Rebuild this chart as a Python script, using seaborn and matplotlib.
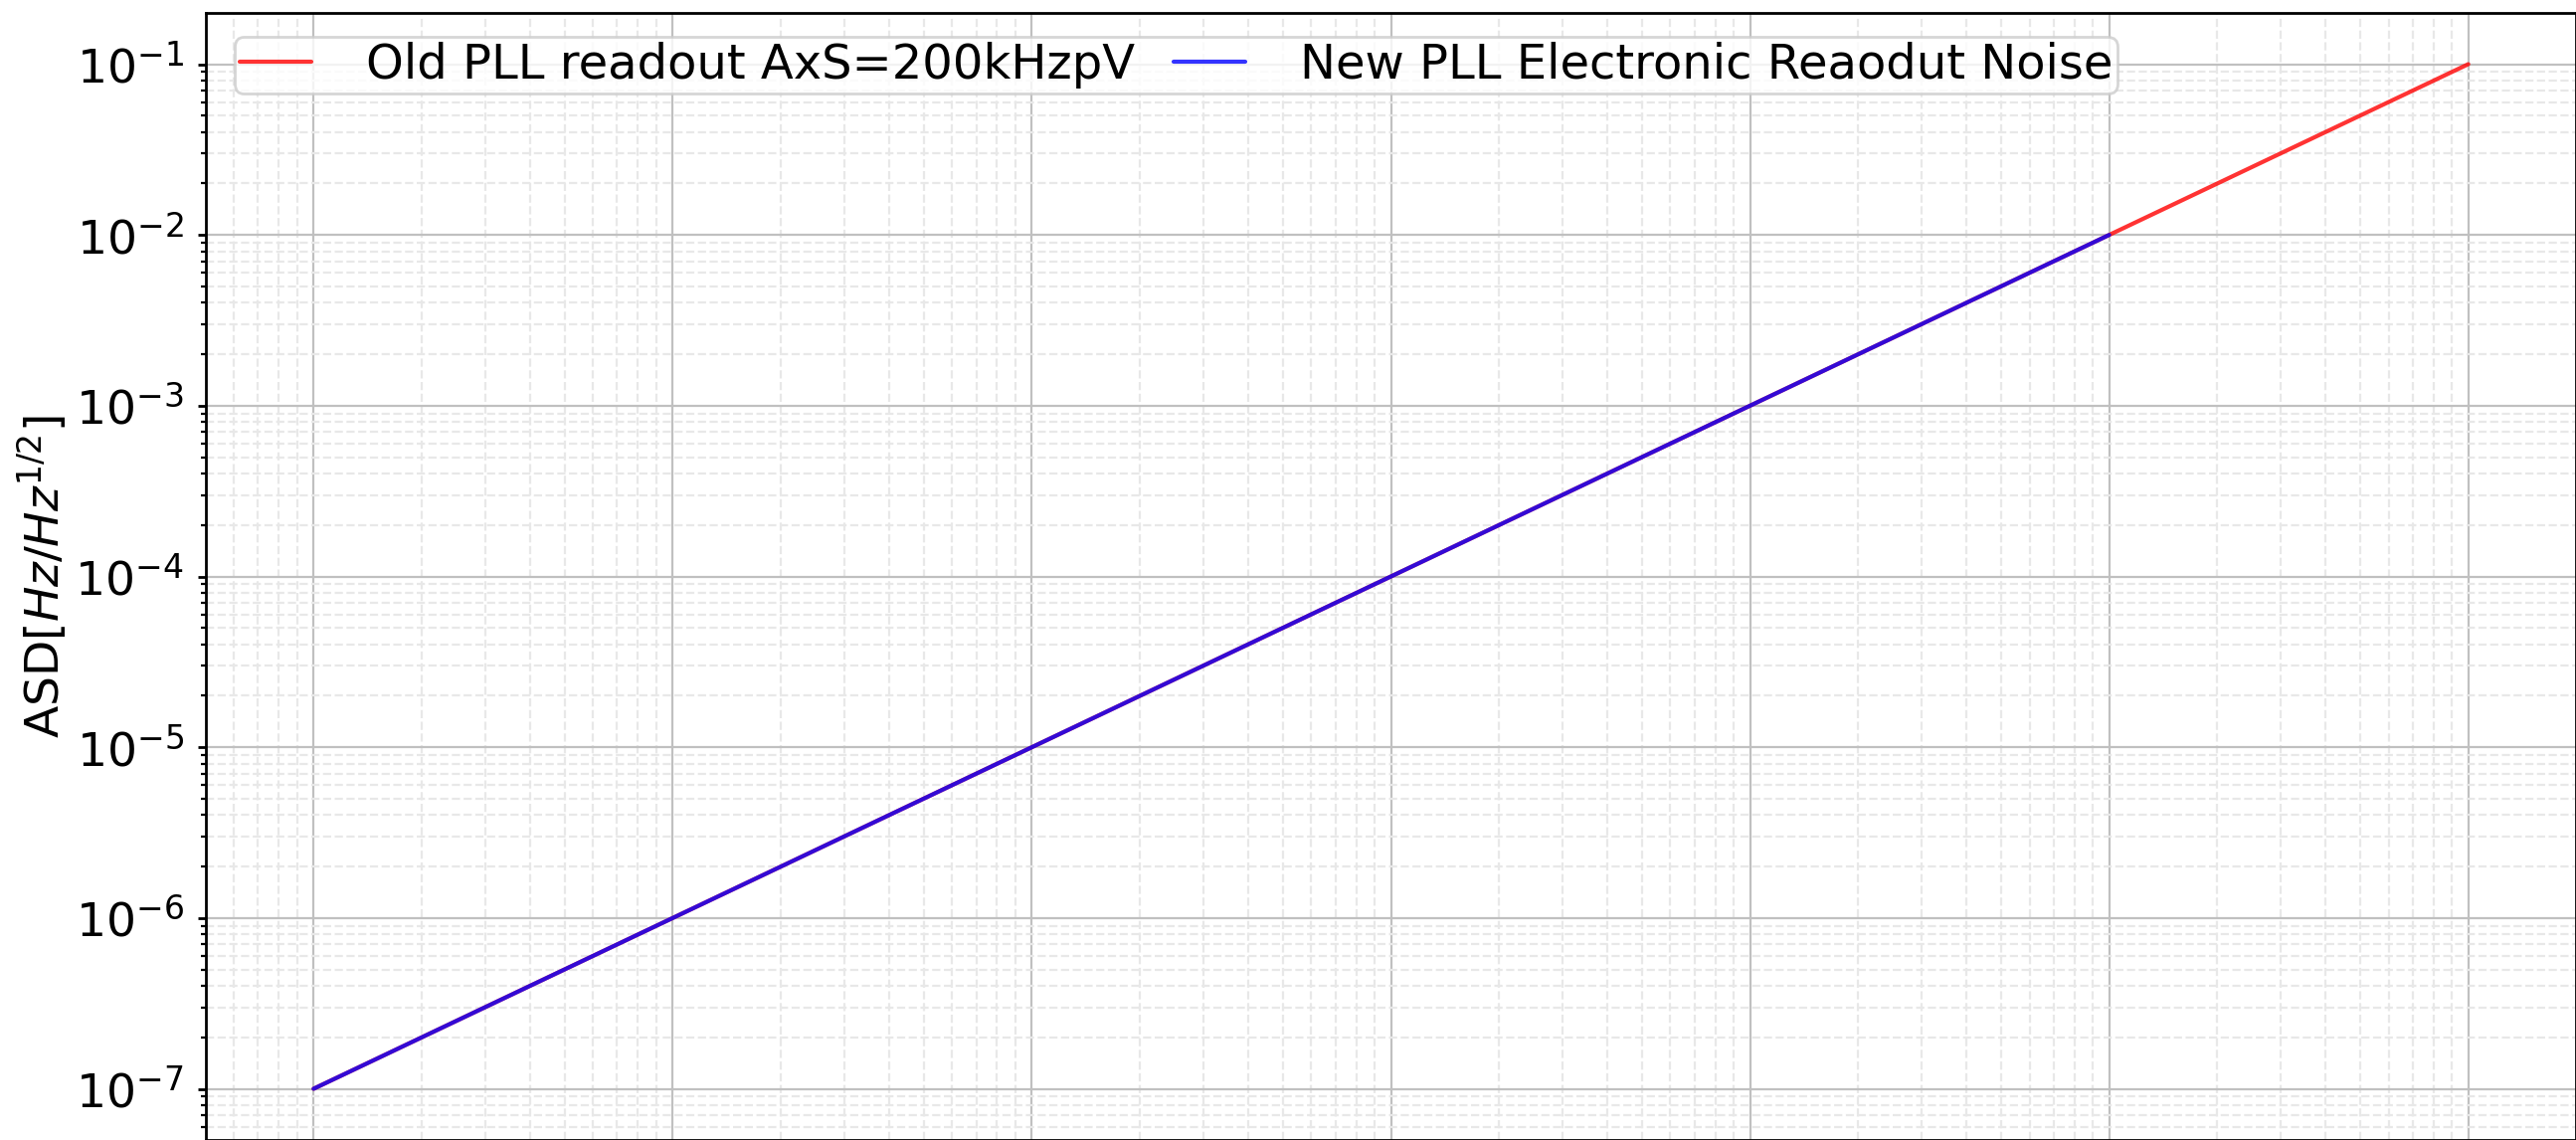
"""
Phase-locked loop readout noise comparison (ASD vs frequency, log-log)
"""

import matplotlib

matplotlib.use("Agg")
import matplotlib.pyplot as plt
import pandas as pd
import seaborn as sns

# frequency points (Hz) and amplitude spectral density values
old_freq = [1e0, 1e1, 1e2, 1e3, 1e4, 1e5, 1e6]
old_asd = [1e-7, 1e-6, 1e-5, 1e-4, 1e-3, 1e-2, 1e-1]
new_freq = [1e0, 1e1, 1e2, 1e3, 1e4, 1e5]
new_asd = [1e-7, 1e-6, 1e-5, 1e-4, 1e-3, 1e-2]

old_label = "Old PLL readout AxS=200kHzpV"
new_label = "New PLL Electronic Reaodut Noise"

sns.set_style("white")
plt.rcParams["font.family"] = ["DejaVu Sans"]
plt.rcParams["text.color"] = "black"
plt.rcParams["axes.labelcolor"] = "black"
plt.rcParams["xtick.color"] = "black"
plt.rcParams["ytick.color"] = "black"

dpi = 200
fig = plt.figure(figsize=(2590 / dpi, 1146 / dpi), dpi=dpi)
# plot area reaches the bottom and right edges like the cropped original
ax = fig.add_axes([207 / 2590, 0.0, 1 - 207 / 2590, 1 - 13 / 1146])

old_df = pd.DataFrame({"freq": old_freq, "asd": old_asd})
new_df = pd.DataFrame({"freq": new_freq, "asd": new_asd})

sns.lineplot(data=old_df, x="freq", y="asd", ax=ax, color="red", alpha=0.8,
             linewidth=1.5, label=old_label)
sns.lineplot(data=new_df, x="freq", y="asd", ax=ax, color="blue", alpha=0.8,
             linewidth=1.5, label=new_label)

ax.set_xscale("log")
ax.set_yscale("log")
ax.grid(True, which="major", color="#c0c0c0", linewidth=0.8)
ax.grid(True, which="minor", color="#e8e8e8", linestyle="--", linewidth=0.8)
ax.set_axisbelow(True)

ax.set_xlabel("")
ax.set_ylabel(r"ASD[$Hz/Hz^{1/2}$]", fontsize=17, labelpad=2)
ax.tick_params(axis="both", which="major", labelsize=17, direction="out",
               length=3, width=1, pad=5, left=True, bottom=True)
ax.tick_params(axis="both", which="minor", direction="out", length=1.8,
               width=0.8, left=True, bottom=True)
for spine in ax.spines.values():
    spine.set_color("black")
    spine.set_linewidth(1)

ax.legend(loc="upper left", ncol=2, fontsize=17.3, framealpha=0.8,
          borderpad=0.1, handlelength=1.5, handletextpad=1.15,
          columnspacing=0.8, bbox_to_anchor=(0.002, 1.0))

fig.savefig("out.png", dpi=dpi)
plt.close(fig)
